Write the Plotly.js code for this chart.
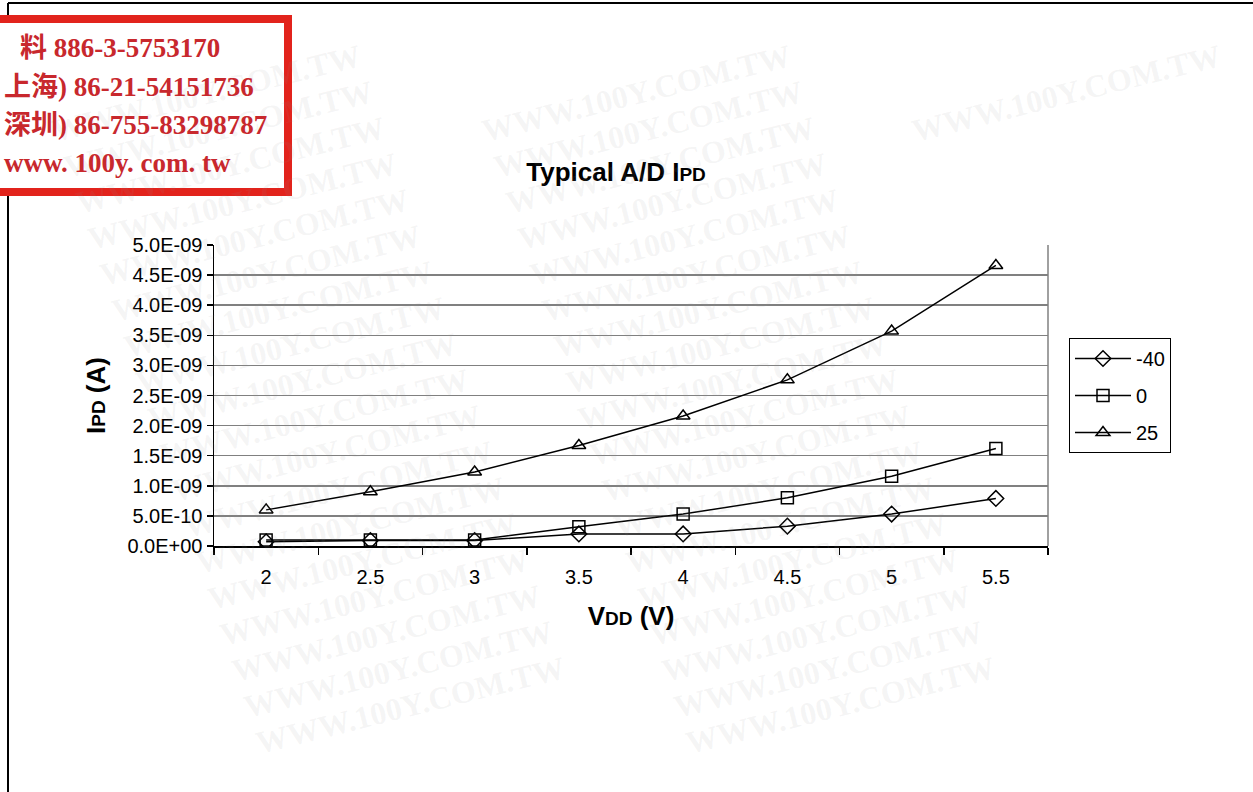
<!DOCTYPE html>
<html>
<head>
<meta charset="utf-8">
<script src="https://cdn.plot.ly/plotly-3.0.1.min.js"></script>
<style>html,body{margin:0;padding:0;background:#fff;}#chart{width:1253px;height:792px;}</style>
</head>
<body>
<div id="chart"></div>
<script>
// ---- data ----
const vdd = ["2", "2.5", "3", "3.5", "4", "4.5", "5", "5.5"];
const ipdM40 = [0.07e-9, 0.09e-9, 0.09e-9, 0.20e-9, 0.20e-9, 0.33e-9, 0.53e-9, 0.79e-9];
const ipd0 = [0.10e-9, 0.10e-9, 0.10e-9, 0.32e-9, 0.53e-9, 0.80e-9, 1.16e-9, 1.62e-9];
const ipd25 = [0.60e-9, 0.90e-9, 1.23e-9, 1.67e-9, 2.16e-9, 2.76e-9, 3.57e-9, 4.66e-9];
const seriesNames = ["-40", "0", "25"];
const yTickVals = [0, 0.5e-9, 1.0e-9, 1.5e-9, 2.0e-9, 2.5e-9, 3.0e-9, 3.5e-9, 4.0e-9, 4.5e-9, 5.0e-9];
const yTickText = ["0.0E+00", "5.0E-10", "1.0E-09", "1.5E-09", "2.0E-09", "2.5E-09", "3.0E-09", "3.5E-09", "4.0E-09", "4.5E-09", "5.0E-09"];
const stampLines = ["料 886-3-5753170", "上海) 86-21-54151736", "深圳) 86-755-83298787", "www. 100y. com. tw"];
const watermarkText = "WWW.100Y.COM.TW";

// ---- geometry helpers (pixel -> paper) ----
const W = 1253, H = 792;
const L = 214, R = 1048, T = 245, B = 546;
const px = x => (x - L) / (R - L);
const py = y => (B - y) / (B - T);

const FONT = "Arial, 'Liberation Sans', sans-serif";
const markerSyms = ["diamond-open", "square-open", "triangle-up-open"];
const seriesData = [ipdM40, ipd0, ipd25];

const traces = seriesData.map((vals, i) => ({
  x: vdd, y: vals, name: seriesNames[i], type: "scatter", mode: "lines+markers",
  legendgroup: "g" + i,
  line: {color: "#000", width: 1.5},
  marker: {symbol: markerSyms[i], size: 12, color: "#000", line: {width: 1.5, color: "#000"}}
}));

const annotations = [];
// watermark (only copies that fit fully inside the page)
for (let r = 0; r < 24; r++) {
  for (let c = -1; c < 4; c++) {
    const x0 = c * 430 + r * 12 + 10;
    const y0 = -15 + r * 36;
    if (x0 < 4 || x0 + 340 > W - 4 || y0 - 62 < 4 || y0 + 62 > H - 4) continue;
    annotations.push({
      xref: "paper", yref: "paper", x: px(x0), y: py(y0), xanchor: "left", yanchor: "middle",
      text: watermarkText, showarrow: false, textangle: -14,
      font: {family: "'Liberation Serif', 'DejaVu Serif', serif", size: 32, color: "rgba(150,150,150,0.10)", weight: "bold"}
    });
  }
}
// stamp text
const stampLeft = [18, 2, 2, 2];
const stampY = [48, 87, 125, 163];
stampLines.forEach((t, i) => {
  annotations.push({
    xref: "paper", yref: "paper", x: px(stampLeft[i]), y: py(stampY[i]), xanchor: "left", yanchor: "middle",
    text: "<b>" + t + "</b>", showarrow: false,
    font: {family: "'Liberation Serif', 'Noto Sans CJK TC', serif", size: 27, color: "#c8282d"}
  });
});

const shapes = [
  // outer frame
  {type: "line", xref: "paper", yref: "paper", x0: px(8), x1: px(W + 5), y0: py(3), y1: py(3), line: {color: "#000", width: 2}},
  {type: "line", xref: "paper", yref: "paper", x0: px(8), x1: px(8), y0: py(3), y1: py(H + 5), line: {color: "#000", width: 2}},
  // plot area right border
  {type: "line", xref: "paper", yref: "paper", x0: 1, x1: 1, y0: 0, y1: 1, line: {color: "#808080", width: 1.5}},
  // stamp box
  {type: "rect", xref: "paper", yref: "paper", x0: px(-20), x1: px(288), y0: py(19), y1: py(192),
   fillcolor: "#fff", line: {color: "#e2231c", width: 8}}
];

const layout = {
  width: W, height: H,
  margin: {l: L, r: W - R, t: T, b: H - B, pad: 0},
  paper_bgcolor: "#fff", plot_bgcolor: "#fff",
  showlegend: true,
  title: {
    text: "<b>Typical A/D I<span style='font-size:19px'>PD</span></b>",
    x: px(616), xref: "paper", xanchor: "center", y: 1 - 172 / H, yanchor: "middle",
    font: {family: FONT, size: 26, color: "#000"}
  },
  xaxis: {
    type: "category", range: [-0.5, 7.5], tickson: "boundaries",
    ticks: "outside", ticklen: 7, tickwidth: 1.5, tickcolor: "#000",
    showline: true, linecolor: "#000", linewidth: 1.5, showgrid: false, zeroline: false,
    tickfont: {family: FONT, size: 20, color: "#000"}, ticklabelstandoff: 12,
    title: {text: "<b>V<span style='font-size:19px'>DD</span> (V)</b>", font: {family: FONT, size: 26, color: "#000"}, standoff: 20},
    automargin: false, fixedrange: true
  },
  yaxis: {
    range: [0, 5e-9], tickvals: yTickVals, ticktext: yTickText,
    ticks: "outside", ticklen: 6, tickwidth: 1.5, tickcolor: "#000",
    showline: true, linecolor: "#000", linewidth: 1.5,
    showgrid: true, gridcolor: "#808080", gridwidth: 1.5, zeroline: false,
    tickfont: {family: FONT, size: 20, color: "#000"},
    title: {text: "<b>I<span style='font-size:19px'>PD</span> (A)</b>", font: {family: FONT, size: 26, color: "#000"}, standoff: 14},
    automargin: false, fixedrange: true
  },
  legend: {
    x: px(1069), y: py(338), xanchor: "left", yanchor: "top",
    bordercolor: "#000", borderwidth: 1, bgcolor: "#fff",
    font: {family: FONT, size: 20, color: "#000"},
    itemwidth: 56, tracegroupgap: 8, traceorder: "grouped"
  },
  shapes: shapes,
  annotations: annotations
};

Plotly.newPlot("chart", traces, layout, {staticPlot: true, displayModeBar: false});
</script>
</body>
</html>
